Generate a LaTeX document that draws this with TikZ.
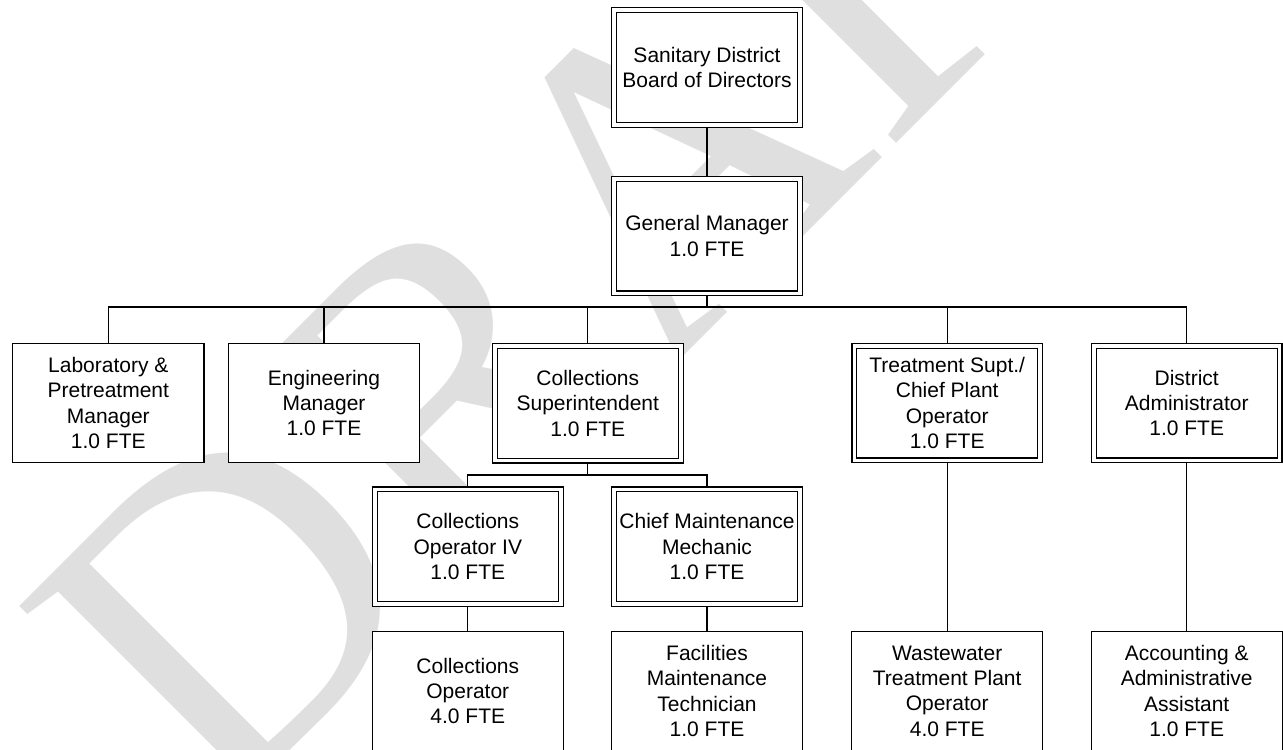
\documentclass[tikz,border=0pt]{standalone}
\usepackage{fontspec}
\setmainfont{Liberation Sans}
\newfontfamily\wmfont{Liberation Serif}
\definecolor{wmgray}{RGB}{223,223,223}
\tikzset{
  boxtext/.style={font=\fontsize{10.5}{12.65}\selectfont, align=center, inner sep=0pt},
  sbox/.style={boxtext, draw, fill=white, line width=0.6pt, minimum width=95.6pt, minimum height=59.6pt},
  dbox/.style={boxtext, draw, fill=white, line width=0.6pt, double, double distance=1.8pt,
               outer sep=1.5pt, minimum width=92.9pt, minimum height=57.3pt},
  conn/.style={line width=0.6pt},
  thickconn/.style={line width=1.3pt},
}
\begin{document}
\begin{tikzpicture}[x=0.5pt,y=-0.5pt]
\useasboundingbox (0,0) rectangle (1283,749);
% watermark
\node[rotate=45, anchor=base west, inner sep=0pt, text=wmgray,
      font=\wmfont\fontsize{223.5}{223.5}\selectfont] (wm) at (217.5,822.5) {DRAFT};
% boxes
\node[dbox] (board) at (707,67.6) {Sanitary District\\Board of Directors};
\node[dbox] (gm) at (707,236) {General Manager\\1.0 FTE};
\node[sbox] (lab) at (108.3,403) {Laboratory \&\\Pretreatment\\Manager\\1.0 FTE};
\node[sbox] (eng) at (324,403) {Engineering\\Manager\\1.0 FTE};
\node[dbox] (csup) at (587.8,403.3) {Collections\\Superintendent\\1.0 FTE};
\node[dbox] (treat) at (947.2,403) {Treatment Supt./\\Chief Plant\\Operator\\1.0 FTE};
\node[dbox] (dadm) at (1186.7,403) {District\\Administrator\\1.0 FTE};
\node[dbox] (cop4) at (467.8,546.7) {Collections\\Operator IV\\1.0 FTE};
\node[dbox] (cmm) at (707,546.7) {Chief Maintenance\\Mechanic\\1.0 FTE};
\node[sbox] (cop) at (467.8,691) {Collections\\Operator\\4.0 FTE};
\node[sbox] (fmt) at (707,691) {Facilities\\Maintenance\\Technician\\1.0 FTE};
\node[sbox] (wwtp) at (947.2,691) {Wastewater\\Treatment Plant\\Operator\\4.0 FTE};
\node[sbox] (aaa) at (1186.7,691) {Accounting \&\\Administrative\\Assistant\\1.0 FTE};
% bus coordinates
\coordinate (bus) at (707,307);
\coordinate (sbus) at (587.8,475);
% connectors
\draw[conn] (board) -- (gm);
\draw[thickconn] (gm.south) -- (bus);
\draw[conn] (lab.north) -- (lab.north |- bus) -- (dadm.north |- bus) -- (dadm.north);
\draw[conn] (eng.north) -- (eng.north |- bus);
\draw[conn] (csup.north) -- (csup.north |- bus);
\draw[conn] (treat.north) -- (treat.north |- bus);
\draw[conn] (csup.south) -- (sbus);
\draw[conn] (cop4.north) -- (cop4.north |- sbus) -- (cmm.north |- sbus) -- (cmm.north);
\draw[conn] (cop4) -- (cop);
\draw[conn] (cmm) -- (fmt);
\draw[conn] (treat) -- (wwtp);
\draw[conn] (dadm) -- (aaa);
\end{tikzpicture}
\end{document}
